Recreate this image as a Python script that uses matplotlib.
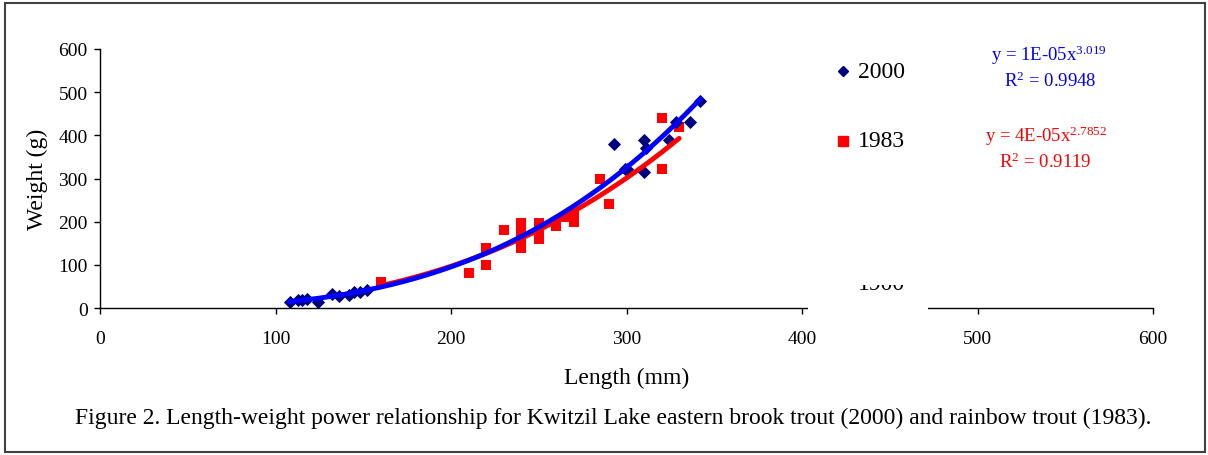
import numpy as np
import matplotlib
matplotlib.use('Agg')
import matplotlib.pyplot as plt
from matplotlib.patches import Rectangle

plt.rcParams['font.family'] = ['Liberation Serif', 'DejaVu Serif']
plt.rcParams['mathtext.fontset'] = 'custom'
plt.rcParams['mathtext.rm'] = 'Liberation Serif'
plt.rcParams['mathtext.it'] = 'Liberation Serif:italic'

# 2000 eastern brook trout
len_2000 = [108, 113, 115, 118, 124, 132, 136, 142, 145, 148, 152,
            293, 299, 300, 310, 311, 310, 324, 328, 336, 342]
wt_2000 = [15, 19, 19, 22, 15, 32, 28, 30, 38, 36, 42,
           380, 323, 322, 389, 370, 314, 389, 430, 430, 480]
# 1983 rainbow trout
len_1983 = [160, 210, 220, 220, 230, 240, 240, 240, 240, 250, 250, 250,
            260, 265, 270, 270, 285, 290, 320, 320, 330]
wt_1983 = [61, 80, 139, 100, 180, 198, 180, 160, 140, 198, 180, 160,
           190, 210, 217, 200, 300, 240, 441, 321, 420]

eq_2000 = ['y = 1E-05x$^{\\mathrm{3.019}}$', 'R$^{\\mathrm{2}}$ = 0.9948']
eq_1983 = ['y = 4E-05x$^{\\mathrm{2.7852}}$', 'R$^{\\mathrm{2}}$ = 0.9119']

W, H = 1208, 456
fig = plt.figure(figsize=(W / 100, H / 100), dpi=100)
ax = fig.add_axes([100 / W, 1 - 309 / H, (1153 - 100) / W, (309 - 50) / H])

def fx(px):
    return px / W

def fy(py):
    return 1 - py / H

# power trendlines fitted in log space
for xs, ys, col, z in [(len_1983, wt_1983, '#ff0000', 3), (len_2000, wt_2000, '#0000ff', 4)]:
    xs = np.array(xs, float)
    ys = np.array(ys, float)
    b, loga = np.polyfit(np.log(xs), np.log(ys), 1)
    xx = np.linspace(xs.min(), xs.max(), 200)
    ax.plot(xx, np.exp(loga) * xx ** b, color=col, lw=3.5, zorder=z, solid_capstyle='round')

ax.scatter(len_1983, wt_1983, marker='s', s=60, color='#ff0000', lw=0, zorder=2)
ax.scatter(len_2000, wt_2000, marker='D', s=45, color='#000080', lw=0, zorder=2)

ax.set_xlim(0, 600)
ax.set_ylim(0, 600)
ax.set_xticks(range(0, 601, 100))
ax.set_yticks(range(0, 601, 100))
for s in ['top', 'right']:
    ax.spines[s].set_visible(False)
ax.spines['left'].set_linewidth(1)
ax.spines['bottom'].set_linewidth(1)
ax.tick_params(direction='out', length=4, width=1, labelsize=14)
ax.tick_params(axis='x', pad=12)
ax.tick_params(axis='y', pad=5)
ax.set_xlabel('Length (mm)', fontsize=17, labelpad=14)
ax.set_ylabel('Weight (g)', fontsize=17, labelpad=7)

# legend box (covers part of the x axis)
fig.add_artist(Rectangle((fx(808), fy(318)), fx(928) - fx(808), fy(40) - fy(318),
                         transform=fig.transFigure, facecolor='white', edgecolor='none', zorder=5))
fig.text(fx(858), fy(290), '1900', fontsize=17, zorder=6, va='baseline')
fig.add_artist(Rectangle((fx(808), fy(286)), fx(928) - fx(808), fy(40) - fy(286),
                         transform=fig.transFigure, facecolor='white', edgecolor='none', zorder=7))
fig.add_artist(plt.Line2D([fx(843)], [fy(72)], marker='D', ms=5, color='#000080',
                          transform=fig.transFigure, zorder=8))
fig.text(fx(858), fy(72), '2000', fontsize=17, va='center', zorder=8)
fig.add_artist(plt.Line2D([fx(843)], [fy(142)], marker='s', ms=7, color='#ff0000',
                          transform=fig.transFigure, zorder=8))
fig.text(fx(858), fy(142), '1983', fontsize=17, va='center', zorder=8)

# trendline equations
fig.text(fx(1049), fy(55), eq_2000[0], color='#0000ff', fontsize=13.5, ha='center', va='center')
fig.text(fx(1050), fy(81), eq_2000[1], color='#0000ff', fontsize=13.5, ha='center', va='center')
fig.text(fx(1046), fy(136), eq_1983[0], color='#ff0000', fontsize=13.5, ha='center', va='center')
fig.text(fx(1045), fy(162), eq_1983[1], color='#ff0000', fontsize=13.5, ha='center', va='center')

fig.text(fx(613), fy(418), 'Figure 2. Length-weight power relationship for Kwitzil Lake eastern brook trout '
         '(2000) and rainbow trout (1983).', fontsize=17, ha='center', va='center')

# outer frame
fig.add_artist(Rectangle((fx(5), fy(453)), fx(1205) - fx(5), fy(4) - fy(453),
                         transform=fig.transFigure, facecolor='none', edgecolor='#404040', lw=1.5))

fig.savefig('out.png', dpi=100)
